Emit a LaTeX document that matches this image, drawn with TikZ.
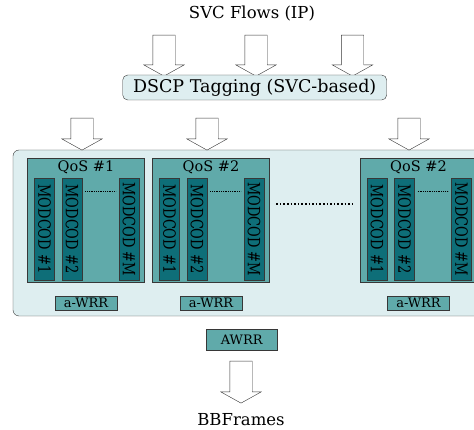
\documentclass[tikz,border=0pt]{standalone}
\usepackage{fontspec}
\setmainfont{DejaVu Serif}
\usetikzlibrary{shapes.arrows,positioning}

\definecolor{paleblue}{RGB}{222,238,240}
\definecolor{qosteal}{RGB}{96,170,170}
\definecolor{darkteal}{RGB}{14,110,120}
\definecolor{edgegray}{RGB}{55,55,55}

\newcommand{\stretchy}[2]{\scalebox{1}[#1]{#2}}

\tikzset{
  bigarrow/.style={single arrow, draw=edgegray, fill=white, rotate=-90,
    inner xsep=0pt, inner ysep=11pt, minimum width=40pt,
    single arrow head extend=9pt, single arrow tip angle=122},
  qosbox/.style={draw=edgegray, fill=qosteal, minimum width=117pt,
    minimum height=124pt, inner sep=0pt},
  modcod/.style={draw=edgegray, fill=darkteal, rotate=-90, minimum width=102pt,
    minimum height=20pt, inner sep=0pt},
  wrrbox/.style={draw=edgegray, fill=qosteal, inner sep=0pt},
  txt/.style={font=\fontsize{13}{15}\selectfont},
  bigtxt/.style={font=\fontsize{16.5}{19}\selectfont}
}

\begin{document}
\begin{tikzpicture}[x=1pt,y=-1pt,txt]
   \useasboundingbox (0,0) rectangle (474,430);
   \clip (0,0) rectangle (474,430);
   % outer scheduler frame
   \draw[edgegray, fill=paleblue, rounded corners=6pt] (13,150) rectangle (495,316);

   \node[bigtxt] (flows) at (252,14) {SVC Flows (IP)};
   \node[bigarrow, minimum height=41pt] (in1) at (164,52.5) {};
   \node[bigarrow, minimum height=41pt] (in2) at (256,52.5) {};
   \node[bigarrow, minimum height=41pt] (in3) at (352.5,52.5) {};
   \node[draw=edgegray, fill=paleblue, rounded corners=5pt, minimum width=264pt,
     minimum height=25pt, inner sep=0pt, font=\fontsize{17.5}{20}\selectfont]
     (dscp) at (254.7,87.5) {DSCP Tagging (SVC-based)};
   \node[bigarrow, minimum height=32pt] (out1) at (82,131) {};
   \node[bigarrow, minimum height=32pt] (out2) at (207,131) {};
   \node[bigarrow, minimum height=32pt] (out3) at (409,131) {};

   % QoS classes with their MODCOD queues
   \foreach \q/\x/\lab in {1/86/1, 2/211/2, 3/418.5/2} {
     \node[qosbox] (q\q) at (\x,220) {};
     \node[font=\fontsize{14.5}{16}\selectfont] (ql\q) [below=-1pt of q\q.north] {QoS \#\lab};
     \node[modcod] (m\q a) at ({\x-41.5},229) {\stretchy{1.3}{MODCOD \#1}};
     \node[modcod] (m\q b) at ({\x-14},229) {\stretchy{1.3}{MODCOD \#2}};
     \node[modcod] (m\q c) at ({\x+43},229) {\stretchy{1.3}{MODCOD \#M}};
     \draw[densely dotted, thick] ([xshift=3pt]m\q b.north |- 0,191)
       -- ([xshift=-3pt]m\q c.south |- 0,191);
     \node[wrrbox, minimum width=62pt, minimum height=14pt] (w\q) at (\x,303) {a-WRR};
   }
   \draw[dotted, line width=1.6pt] ([xshift=6.5pt]q2.east |- 0,204)
     -- ([xshift=-7pt]q3.west |- 0,204);

   \node[wrrbox, minimum width=71pt, minimum height=21pt] (awrr) at (241.7,340) {AWRR};
   \node[bigarrow, minimum height=42pt] (down) at (241,379) {};
   \node[bigtxt] (bbf) at (241,420) {BBFrames};
\end{tikzpicture}
\end{document}
